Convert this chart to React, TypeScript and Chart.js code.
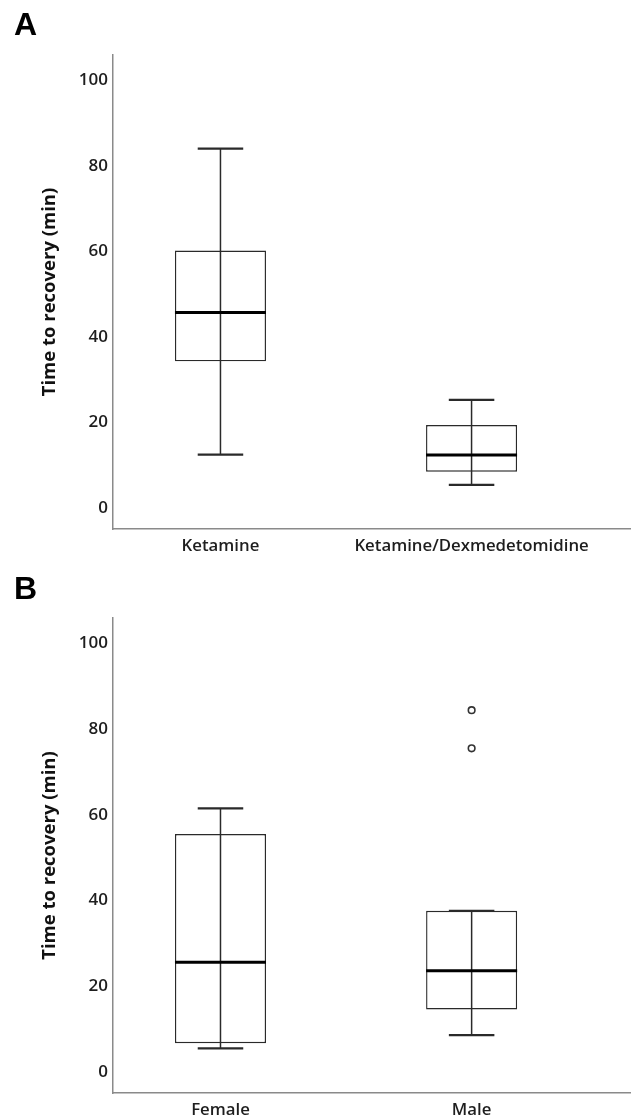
import React, { useEffect, useRef } from "react";
import { Chart, registerables } from "chart.js";

Chart.register(...registerables);

// Panel A: treatment groups
const labelsA = ["Ketamine", "Ketamine/Dexmedetomidine"];
const lowA = [12.5, 5.4];
const q1A = [34.3, 8.5];
const medA = [45.7, 12.4];
const q3A = [60.2, 19.4];
const highA = [84.0, 25.3];
const outliersA: { x: number; y: number }[] = [];

// Panel B: sex
const labelsB = ["Female", "Male"];
const lowB = [5.5, 8.6];
const q1B = [6.7, 14.6];
const medB = [25.6, 23.6];
const q3B = [55.5, 37.6];
const highB = [61.5, 37.6];
const outliersB = [
  { x: 2, y: 84.4 },
  { x: 2, y: 75.5 },
];

const yTicks = [0, 20, 40, 60, 80, 100];
const yTitle = "Time to recovery (min)";

const FONT = "'Open Sans', 'DejaVu Sans', sans-serif";
const PT_RADIUS = 3.3;
const PT_BORDER = 1.6;

const whiskerPlugin = {
  id: "whiskers",
  afterDatasetsDraw(chart: any) {
    const opts = chart.options.plugins.whiskers;
    if (!opts) return;
    const { low, med, high } = opts;
    const xs = chart.scales.x;
    const ys = chart.scales.y;
    const meta = chart.getDatasetMeta(0);
    const ctx = chart.ctx;
    ctx.save();
    low.forEach((_: number, i: number) => {
      const el = meta.data[i];
      const cx = xs.getPixelForValue(i + 1);
      const w = el ? el.width : 90;
      const capHalf = w / 4;
      const yl = ys.getPixelForValue(low[i]);
      const yh = ys.getPixelForValue(high[i]);
      const ym = ys.getPixelForValue(med[i]);
      ctx.strokeStyle = "#2a2a2a";
      ctx.lineWidth = 1.5;
      ctx.beginPath();
      ctx.moveTo(cx, yl);
      ctx.lineTo(cx, yh);
      ctx.stroke();
      ctx.lineWidth = 2.2;
      ctx.beginPath();
      ctx.moveTo(cx - capHalf, yl);
      ctx.lineTo(cx + capHalf, yl);
      ctx.moveTo(cx - capHalf, yh);
      ctx.lineTo(cx + capHalf, yh);
      ctx.stroke();
      ctx.strokeStyle = "#000";
      ctx.lineWidth = 3;
      ctx.beginPath();
      ctx.moveTo(cx - w / 2, ym);
      ctx.lineTo(cx + w / 2, ym);
      ctx.stroke();
    });
    ctx.restore();
  },
};

function BoxPanel(props: {
  labels: string[];
  low: number[];
  q1: number[];
  med: number[];
  q3: number[];
  high: number[];
  outliers: { x: number; y: number }[];
  top: number;
  xAxisHeight: number;
}) {
  const ref = useRef<HTMLCanvasElement | null>(null);
  const hasOut = props.outliers.length > 0;
  // chart.js reserves room on the right for point overflow
  const overflow = hasOut ? PT_RADIUS + PT_BORDER : 0;
  useEffect(() => {
    if (!ref.current) return;
    const { labels, low, q1, med, q3, high, outliers, top, xAxisHeight } = props;
    const datasets: any[] = [
      {
        type: "bar",
        data: labels.map((_, i) => ({ x: i + 1, y: [q1[i], q3[i]] })) as any,
        backgroundColor: "#ffffff",
        borderColor: "#2a2a2a",
        borderWidth: 1.4,
        borderSkipped: false,
        categoryPercentage: 1,
        barPercentage: 0.3625,
      },
    ];
    if (outliers.length) {
      datasets.push({
        type: "scatter",
        data: outliers,
        pointStyle: "circle",
        pointRadius: PT_RADIUS,
        pointHoverRadius: 0,
        pointBorderWidth: PT_BORDER,
        borderWidth: 0,
        pointBackgroundColor: "#ffffff",
        pointBorderColor: "#333",
      });
    }
    const chart = new Chart(ref.current, {
      type: "bar",
      data: { datasets },
      options: {
        responsive: false,
        animation: false,
        layout: { padding: { top: top, left: 35, right: 0, bottom: 0 } },
        plugins: {
          legend: { display: false },
          tooltip: { enabled: false },
          whiskers: { low, med, high },
        } as any,
        scales: {
          x: {
            type: "linear",
            offset: false,
            min: 0.572,
            max: 2.635,
            grid: { display: false, drawTicks: false, offset: false },
            border: { display: true, color: "#8a8a8a", width: 1.5 },
            afterBuildTicks: (s: any) => {
              s.ticks = labels.map((_, i) => ({ value: i + 1 }));
            },
            afterFit: (s: any) => {
              s.height = xAxisHeight;
              s.paddingLeft = 0;
              s.paddingRight = 0;
            },
            ticks: {
              autoSkip: false,
              maxRotation: 0,
              padding: 7,
              color: "#1e1e1e",
              font: { family: FONT, size: 16.8, weight: "600" },
              callback: (v: any) => labels[Math.round(Number(v)) - 1] ?? "",
            },
          },
          y: {
            type: "linear",
            min: -4.9,
            max: 105.9,
            grid: { display: false, drawTicks: false },
            border: { display: true, color: "#8a8a8a", width: 1.5 },
            afterBuildTicks: (s: any) => {
              s.ticks = yTicks.map((v) => ({ value: v }));
            },
            afterFit: (s: any) => {
              s.width = 78;
            },
            ticks: {
              padding: 5,
              color: "#1e1e1e",
              font: { family: FONT, size: 17, weight: "600" },
            },
            title: {
              display: true,
              text: yTitle,
              color: "#111",
              font: { family: FONT, size: 18.5, weight: "bold" },
              padding: { top: 4, bottom: 4 },
            },
          },
        },
      },
      plugins: [whiskerPlugin],
    } as any);
    return () => chart.destroy();
  }, []);
  return (
    <canvas
      ref={ref}
      width={631 + Math.round(overflow)}
      height={560}
      style={{ display: "block" }}
    />
  );
}

const letterStyle: React.CSSProperties = {
  position: "absolute",
  left: 14,
  fontFamily: "'Liberation Sans', Arial, sans-serif",
  fontWeight: "bold",
  fontSize: 32,
  lineHeight: "32px",
  color: "#000",
};

export default function App() {
  return (
    <div
      style={{
        position: "absolute",
        left: 0,
        top: 0,
        width: 631,
        height: 1120,
        background: "#fff",
        overflow: "hidden",
      }}
    >
      <div style={{ position: "absolute", left: 0, top: 0, width: 631, height: 560, overflow: "hidden" }}>
        <BoxPanel
          labels={labelsA}
          low={lowA}
          q1={q1A}
          med={medA}
          q3={q3A}
          high={highA}
          outliers={outliersA}
          top={55}
          xAxisHeight={31}
        />
      </div>
      <div style={{ position: "absolute", left: 0, top: 560, width: 631, height: 560, overflow: "hidden" }}>
        <BoxPanel
          labels={labelsB}
          low={lowB}
          q1={q1B}
          med={medB}
          q3={q3B}
          high={highB}
          outliers={outliersB}
          top={58}
          xAxisHeight={27}
        />
      </div>
      <div style={{ ...letterStyle, top: 8 }}>A</div>
      <div style={{ ...letterStyle, top: 572 }}>B</div>
    </div>
  );
}
